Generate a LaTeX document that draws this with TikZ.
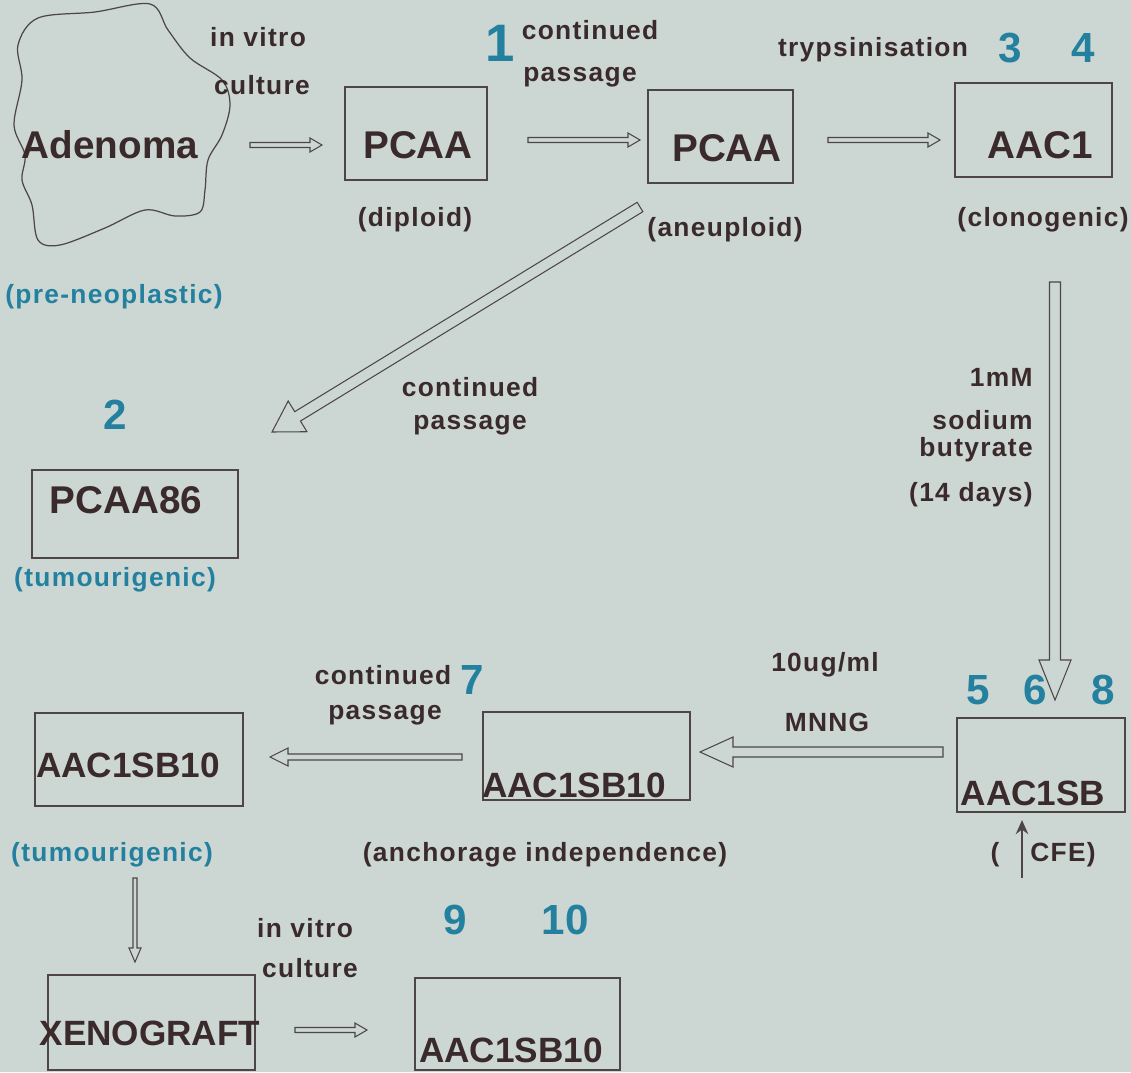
\documentclass[tikz,border=0pt]{standalone}
\usepackage{fontspec}
\setmainfont{Liberation Sans}
\newfontfamily\lblfont[LetterSpace=5]{Liberation Sans}
\usepackage{tikz}
\usetikzlibrary{calc,arrows.meta}

\definecolor{paper}{HTML}{CCD7D3}
\definecolor{ink}{HTML}{3A2A2C}
\definecolor{boxline}{HTML}{4E4646}
\definecolor{stageteal}{HTML}{23809E}

\tikzset{
  cell/.style={draw=boxline, line width=0.7pt, rectangle, inner sep=0pt},
  cellname/.style={text=ink, inner sep=0pt, font=\bfseries\fontsize{22}{24}\selectfont},
  linename/.style={cellname, font=\bfseries\fontsize{20}{22}\selectfont},
  note/.style={text=ink, inner sep=0pt, font=\lblfont\bfseries\fontsize{15}{17}\selectfont},
  stage/.style={text=stageteal, inner sep=0pt, font=\lblfont\bfseries\fontsize{15}{17}\selectfont},
  marker/.style={text=stageteal, inner sep=0pt, font=\bfseries\fontsize{24}{26}\selectfont},
  arrowline/.style={draw=boxline, line width=0.6pt, line join=miter}
}

% open block arrow: from, to, half shaft, half head, head length
\newcommand{\hollowarrow}[5]{%
  \coordinate (hb) at ($(#2)!#5!(#1)$);
  \draw[arrowline] ($(#1)!#3!90:(#2)$) -- ($(hb)!#3!90:(#2)$) -- ($(hb)!#4!90:(#2)$) -- (#2)
    -- ($(hb)!#4!-90:(#2)$) -- ($(hb)!#3!-90:(#2)$) -- ($(#1)!#3!-90:(#2)$) -- cycle;}

\begin{document}
\begin{tikzpicture}[x=0.02cm, y=-0.02cm]
\fill[paper] (0,0) rectangle (1131,1072);
\useasboundingbox (0,0) rectangle (1131,1072);

% Adenoma
\draw[boxline, line width=0.7pt] plot[smooth cycle, tension=0.55] coordinates {
  (38,18) (95,12) (150,4) (168,30) (190,58) (222,80) (230,105) (222,135) (208,160)
  (205,190) (200,212) (175,216) (145,210) (105,228) (60,245) (38,240) (32,205)
  (22,180) (25,155) (14,125) (22,80) (18,45)};
\node[cellname] (adenoma) at (110,145) {Adenoma};
\node[note] (vitro1) at (258,37) {in vitro};
\node[note] (culture1) at (262,85) {culture};
\node[stage] (preneo) at (114,297) {(pre-neoplastic)};

% First row of cell lines
\node[cell, minimum width=2.84cm, minimum height=1.86cm] (pcaa1) at (416,133.5) {};
\node[cellname] (pcaa1name) at (418,145) {PCAA};
\node[note] (diploid) at (415,220) {(diploid)};
\node[marker, font=\bfseries\fontsize{30}{32}\selectfont] (m1) at (500,43) {1};
\node[note] (cont1) at (590,30) {continued};
\node[note] (pass1) at (580,77) {passage};

\node[cell, minimum width=2.9cm, minimum height=1.86cm] (pcaa2) at (720.5,136.5) {};
\node[cellname] (pcaa2name) at (727,148) {PCAA};
\node[note] (aneuploid) at (725,230) {(aneuploid)};
\node[note] (tryp) at (873,50) {trypsinisation};
\node[marker] (m3) at (1010,48) {3};
\node[marker] (m4) at (1083,48) {4};

\node[cell, minimum width=3.14cm, minimum height=1.88cm] (aac1) at (1033.5,130) {};
\node[cellname] (aac1name) at (1040,145) {AAC1};
\node[note] (clono) at (1043,220) {(clonogenic)};

% PCAA86
\node[marker] (m2) at (115,415) {2};
\node[cell, minimum width=4.12cm, minimum height=1.76cm] (pcaa86) at (135,514) {};
\node[cellname] (pcaa86name) at (126,500) {PCAA86};
\node[stage] (tumour1) at (115,580) {(tumourigenic)};
\node[note] (cont2) at (470,387) {continued};
\node[note] (pass2) at (470,425) {passage};

% Butyrate treatment
\node[note, anchor=east] (mm) at (1033,377) {1mM};
\node[note, anchor=east] (sodium) at (1033,420) {sodium};
\node[note, anchor=east] (butyrate) at (1033,450) {butyrate};
\node[note, anchor=east] (days) at (1033,495) {(14 days)};

% AAC1SB
\node[marker] (m5) at (978,690) {5};
\node[marker] (m6) at (1035,690) {6};
\node[marker] (m8) at (1103,690) {8};
\node[cell, minimum width=3.36cm, minimum height=1.88cm] (aac1sb) at (1041,765) {};
\node[linename] (aac1sbname) at (1033,793) {AAC1SB};
\node[note] (cfeopen) at (995,855) {(};
\node[note] (cfe) at (1063,855) {CFE)};
\coordinate (cfebase) at (1022,878);
\coordinate (cfetip) at (1022,820);
\node[note] (ugml) at (825,665) {10ug/ml};
\node[note] (mnng) at (827,722) {MNNG};

% AAC1SB10 lines
\node[cell, minimum width=4.14cm, minimum height=1.76cm] (sb10b) at (586.5,756) {};
\node[linename] (sb10bname) at (574,785) {AAC1SB10};
\node[note] (anchor) at (545,855) {(anchorage independence)};
\node[note] (cont3) at (383,675) {continued};
\node[note] (pass3) at (385,715) {passage};
\node[marker] (m7) at (472,680) {7};

\node[cell, minimum width=4.16cm, minimum height=1.86cm] (sb10a) at (139,759.5) {};
\node[linename] (sb10aname) at (128,765) {AAC1SB10};
\node[stage] (tumour2) at (112,855) {(tumourigenic)};

% Xenograft
\node[cell, minimum width=4.14cm, minimum height=1.9cm] (xeno) at (151.5,1022.5) {};
\node[linename] (xenoname) at (150,1033) {XENOGRAFT};
\node[note] (vitro2) at (305,928) {in vitro};
\node[note] (culture2) at (310,968) {culture};
\node[marker] (m9) at (455,920) {9};
\node[marker] (m10) at (565,920) {10};
\node[cell, minimum width=4.1cm, minimum height=1.84cm] (sb10c) at (517.5,1024) {};
\node[linename] (sb10cname) at (511,1050) {AAC1SB10};

% Connections
\coordinate (a1s) at (250,145);  \coordinate (a1e) at (322,145);
\coordinate (a2s) at (528,140);  \coordinate (a2e) at (640,140);
\coordinate (a3s) at (828,140);  \coordinate (a3e) at (940,140);
\coordinate (a4s) at (640,207);  \coordinate (a4e) at (272,432);
\coordinate (a5s) at (1055,282); \coordinate (a5e) at (1055,700);
\coordinate (a6s) at (943,752);  \coordinate (a6e) at (700,752);
\coordinate (a7s) at (462,757);  \coordinate (a7e) at (270,757);
\coordinate (a8s) at (135,878);  \coordinate (a8e) at (135,962);
\coordinate (a9s) at (295,1030); \coordinate (a9e) at (367,1030);
\hollowarrow{a1s}{a1e}{0.05cm}{0.14cm}{0.24cm}
\hollowarrow{a2s}{a2e}{0.05cm}{0.14cm}{0.24cm}
\hollowarrow{a3s}{a3e}{0.05cm}{0.14cm}{0.24cm}
\hollowarrow{a4s}{a4e}{0.11cm}{0.36cm}{0.6cm}
\hollowarrow{a5s}{a5e}{0.11cm}{0.32cm}{0.8cm}
\hollowarrow{a6s}{a6e}{0.1cm}{0.3cm}{0.66cm}
\hollowarrow{a7s}{a7e}{0.06cm}{0.18cm}{0.36cm}
\hollowarrow{a8s}{a8e}{0.04cm}{0.12cm}{0.28cm}
\hollowarrow{a9s}{a9e}{0.05cm}{0.14cm}{0.24cm}
\draw[boxline, line width=1.6pt, -{Stealth[length=8pt, width=7pt]}] (cfebase) -- (cfetip);

\end{tikzpicture}
\end{document}
